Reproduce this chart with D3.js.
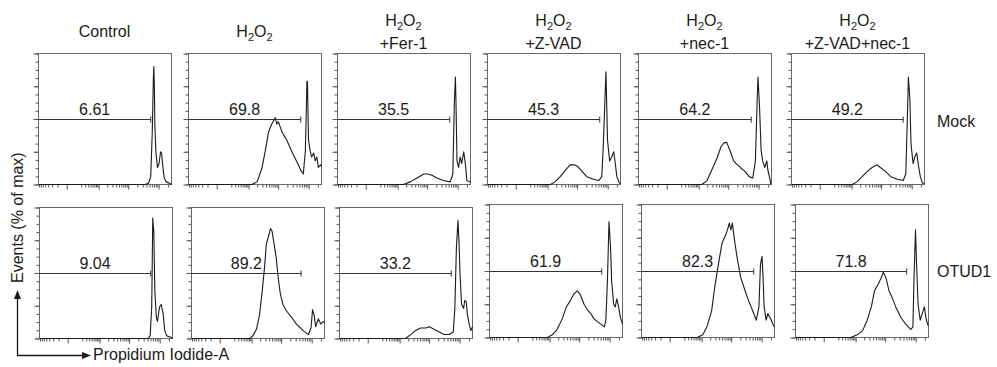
<!DOCTYPE html>
<html>
<head>
<meta charset="utf-8">
<script src="https://cdn.jsdelivr.net/npm/d3@7"></script>
<style>
body { margin: 0; background: #fff; }
svg { font-family: "Liberation Sans", Arial, sans-serif; }
</style>
</head>
<body>
<svg id="chart" width="997" height="367"></svg>
<script>
var conditions = [["Control"], ["H2O2"], ["H2O2", "+Fer-1"], ["H2O2", "+Z-VAD"], ["H2O2", "+nec-1"], ["H2O2", "+Z-VAD+nec-1"]];
var rowNames = ["Mock", "OTUD1"];
var mockPct = ["6.61", "69.8", "35.5", "45.3", "64.2", "49.2"];
var otudPct = ["9.04", "89.2", "33.2", "61.9", "82.3", "71.8"];
// gate right end, in display channels (0-256)
var mockGate = [216, 216, 216, 216, 217, 215];
var otudGate = [214, 211, 215, 216, 216, 214];

// histograms: [channel, % of max]
var mockControl = [[0,0],[205,0],[212,1],[216,6],[219,40],[221,80],[222,90],[223,75],[224,45],[226,25],[229,13],[232,16],[235,25],[237,24],[239,15],[242,5],[246,2],[252,1],[256,0]];
var mockH2O2 = [[0,0],[122,0],[132,2],[141,12],[148,26],[154,40],[160,46],[167,51],[170,46],[173,48],[180,40],[189,34],[199,25],[209,17],[216,11],[221,8],[225,26],[228,79],[229,78],[231,34],[234,26],[237,21],[241,24],[244,18],[247,21],[250,13],[254,15],[256,14]];
var mockFer1 = [[0,0],[127,0],[140,2],[153,5],[166,8],[173,8],[182,7],[191,5],[204,3],[217,2],[222,8],[225,64],[227,82],[228,64],[230,18],[233,13],[236,21],[239,16],[243,25],[246,16],[249,3],[254,2],[256,2]];
var mockZVAD = [[0,0],[121,0],[130,2],[140,6],[150,11],[159,15],[167,15],[173,14],[182,10],[191,6],[204,4],[214,3],[220,6],[223,31],[226,64],[228,86],[229,69],[231,34],[235,18],[239,21],[243,25],[246,16],[249,6],[254,1],[256,1]];
var mockNec1 = [[0,0],[122,0],[132,3],[141,11],[151,20],[159,29],[165,32],[170,32],[177,25],[183,18],[188,16],[196,13],[205,10],[213,6],[220,5],[225,18],[228,59],[230,82],[233,59],[236,26],[239,18],[243,13],[247,18],[249,11],[252,6],[255,0]];
var mockBoth = [[0,0],[117,0],[126,2],[136,6],[146,10],[155,13],[165,15],[171,13],[181,10],[191,6],[204,4],[215,3],[220,8],[223,51],[225,82],[228,64],[230,31],[234,16],[238,22],[241,24],[245,13],[248,6],[252,1],[256,1]];

var otudControl = [[0,0],[209,0],[213,2],[216,24],[218,92],[220,82],[222,36],[225,16],[227,13],[231,24],[234,26],[238,19],[241,6],[245,2],[253,1],[256,0]];
var otudH2O2 = [[0,0],[112,0],[118,2],[125,7],[131,18],[136,36],[141,56],[144,72],[149,79],[152,84],[155,82],[159,72],[163,62],[167,46],[171,34],[176,26],[183,21],[193,16],[202,11],[215,6],[225,3],[230,8],[233,22],[236,18],[239,9],[244,15],[249,11],[254,13],[256,12]];
var otudFer1 = [[0,0],[127,0],[137,3],[146,6],[156,8],[166,8],[173,9],[182,7],[192,5],[201,3],[211,3],[219,5],[222,23],[225,69],[228,90],[230,74],[232,49],[235,26],[239,23],[241,29],[244,28],[246,19],[250,10],[253,6],[256,9]];
var otudZVAD = [[0,0],[111,0],[121,2],[130,6],[140,14],[148,23],[156,28],[163,33],[169,35],[175,32],[182,25],[188,21],[195,18],[201,14],[211,11],[221,8],[224,13],[227,43],[230,87],[233,68],[235,43],[239,25],[242,23],[245,29],[248,24],[252,15],[256,10]];
var otudNec1 = [[0,0],[107,0],[118,2],[126,8],[135,20],[141,38],[148,55],[155,71],[162,77],[167,83],[169,86],[172,81],[175,86],[178,76],[184,60],[191,45],[197,38],[204,30],[210,24],[216,18],[221,13],[226,23],[229,55],[232,61],[234,45],[236,23],[240,13],[243,18],[246,16],[250,13],[254,9],[256,8]];
var otudBoth = [[0,0],[106,0],[119,2],[129,5],[138,13],[146,23],[152,35],[159,40],[164,44],[169,49],[174,45],[180,35],[186,30],[193,23],[203,15],[212,10],[222,6],[226,8],[228,43],[231,81],[233,55],[236,25],[240,13],[244,18],[248,23],[251,15],[254,10],[256,9]];

var mockHists = [mockControl, mockH2O2, mockFer1, mockZVAD, mockNec1, mockBoth];
var otudHists = [otudControl, otudH2O2, otudFer1, otudZVAD, otudNec1, otudBoth];

// axis ticks (PI intensity, biexponential-like display)
var xMajor = [0, 1000, 10000, 100000];
var xMinor = [-700, -600, -500, -400, -300, -200, -100];
[100, 1000, 10000, 100000].forEach(function(dec) {
    d3.range(2, 10).forEach(function(m) { if (m * dec < 262144) xMinor.push(m * dec); });
});
var yMajor = [0, 25, 50, 75, 100];
var yMinor = d3.range(0, 100.01, 6.25);

// layout
var panelW = 133;
var colX = [[38, 188, 337, 487, 638, 791], [39, 191, 339, 489, 641, 795]];
var rowTop = [[53, 53, 53, 53, 53, 53], [207, 207, 207, 204, 204, 204]];
var rowH = [[131, 131, 131, 131, 131, 131], [131, 131, 131, 133, 133, 133]];

var svg = d3.select('#chart');
var ink = '#1a1a1a';

var draw_panel = function(px, py, ph, hist, gateEnd, pct) {
    var g = svg.append('g').attr('transform', 'translate(' + (px + 0.5) + ',' + (py + 0.5) + ')');
    var x = d3.scaleLinear().domain([0, 256]).range([0, panelW]);
    var xt = d3.scaleSymlog().constant(100).domain([-733, 262144]).range([0, panelW]);
    var y = d3.scaleLinear().domain([0, 100]).range([ph, 0]);

    var ax = function(axis, size, vals) {
        return axis.tickValues(vals).tickSize(size).tickFormat('');
    };
    var gx = g.append('g').attr('transform', 'translate(0,' + ph + ')');
    gx.append('g').call(ax(d3.axisBottom(xt), 3, xMinor));
    gx.append('g').call(ax(d3.axisBottom(xt), 5, xMajor));
    var gy = g.append('g');
    gy.append('g').call(ax(d3.axisLeft(y), 3, yMinor));
    gy.append('g').call(ax(d3.axisLeft(y), 5, yMajor));
    g.selectAll('.domain').remove();
    g.selectAll('.tick line').attr('stroke', '#555');

    g.append('rect')
        .attr('width', panelW).attr('height', ph)
        .attr('fill', 'none').attr('stroke', '#666').attr('stroke-width', 1);

    var line = d3.line().x(function(d) { return x(d[0]); }).y(function(d) { return y(d[1]); });
    g.append('path')
        .attr('d', line(hist))
        .attr('fill', 'none').attr('stroke', ink).attr('stroke-width', 1.1)
        .attr('stroke-linejoin', 'round');

    var gy50 = Math.round(y(50));
    g.append('line')
        .attr('x1', 0).attr('x2', x(gateEnd)).attr('y1', gy50).attr('y2', gy50)
        .attr('stroke', '#333').attr('stroke-width', 1);
    g.append('line')
        .attr('x1', x(gateEnd)).attr('x2', x(gateEnd)).attr('y1', gy50 - 3).attr('y2', gy50 + 3)
        .attr('stroke', '#333').attr('stroke-width', 1);
    g.append('text')
        .attr('x', x(gateEnd) / 2).attr('y', gy50 - 5)
        .attr('text-anchor', 'middle').attr('font-size', 16).attr('fill', ink)
        .text(pct);
};

for (var i = 0; i < 6; i++) {
    draw_panel(colX[0][i], rowTop[0][i], rowH[0][i], mockHists[i], mockGate[i], mockPct[i]);
    draw_panel(colX[1][i], rowTop[1][i], rowH[1][i], otudHists[i], otudGate[i], otudPct[i]);
}

// column headers
var header_line = function(cx, by, str) {
    var t = svg.append('text').attr('x', cx).attr('y', by)
        .attr('text-anchor', 'middle').attr('font-size', 16).attr('fill', ink);
    if (str === 'H2O2') {
        t.append('tspan').text('H');
        t.append('tspan').attr('dy', 4).attr('font-size', 11).text('2');
        t.append('tspan').attr('dy', -4).text('O');
        t.append('tspan').attr('dy', 4).attr('font-size', 11).text('2');
    } else {
        t.text(str);
    }
};
conditions.forEach(function(lines, i) {
    var cx = colX[0][i] + panelW / 2;
    if (lines.length === 1) {
        header_line(cx, 37, lines[0]);
    } else {
        header_line(cx, 26, lines[0]);
        header_line(cx, 49, lines[1]);
    }
});

// row labels
svg.append('text').attr('x', 937).attr('y', 127).attr('font-size', 16).attr('fill', ink).text(rowNames[0]);
svg.append('text').attr('x', 937).attr('y', 277).attr('font-size', 16).attr('fill', ink).text(rowNames[1]);

// axis titles with arrows
svg.append('text')
    .attr('transform', 'translate(23,283) rotate(-90)')
    .attr('font-size', 16).attr('fill', ink)
    .text('Events (% of max)');
svg.append('text').attr('x', 93).attr('y', 360).attr('font-size', 16).attr('fill', ink).text('Propidium Iodide-A');

svg.append('path')
    .attr('d', 'M17.5,298 V355.5 H83')
    .attr('fill', 'none').attr('stroke', ink).attr('stroke-width', 1.3);
svg.append('path').attr('d', 'M17.5,290 L14,299 L21,299 Z').attr('fill', ink);
svg.append('path').attr('d', 'M91,355.5 L82,352 L82,359 Z').attr('fill', ink);
</script>
</body>
</html>
